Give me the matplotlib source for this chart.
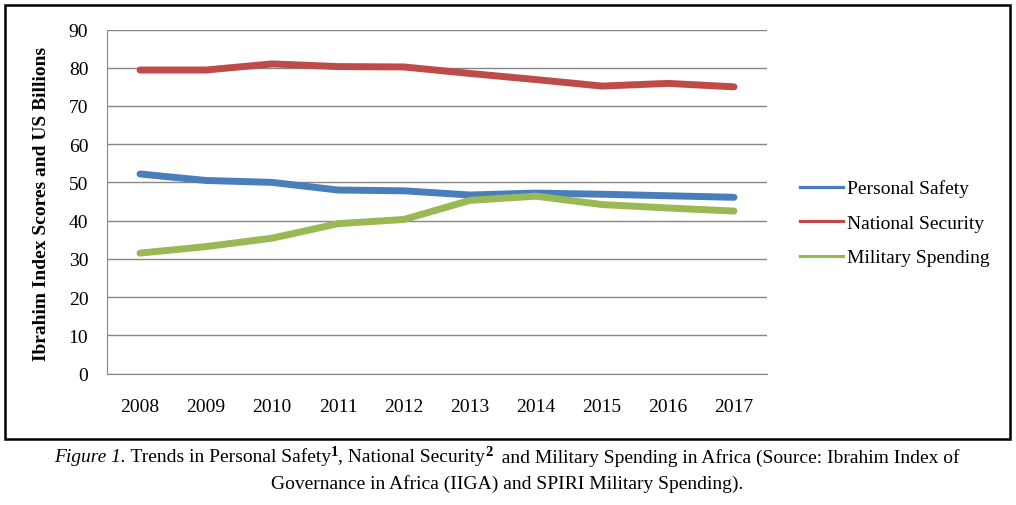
import matplotlib
matplotlib.use("Agg")
import matplotlib.pyplot as plt
from matplotlib.patches import Rectangle
from matplotlib.lines import Line2D

years = ["2008", "2009", "2010", "2011", "2012", "2013", "2014", "2015", "2016", "2017"]
personal_safety = [52.2, 50.5, 50.0, 48.0, 47.8, 46.7, 47.2, 46.9, 46.5, 46.1]
national_security = [79.4, 79.4, 81.0, 80.3, 80.2, 78.5, 76.9, 75.2, 75.9, 75.0]
military_spending = [31.5, 33.2, 35.4, 39.2, 40.3, 45.3, 46.4, 44.2, 43.3, 42.5]
y_ticks = [0, 10, 20, 30, 40, 50, 60, 70, 80, 90]
series_names = ["Personal Safety", "National Security", "Military Spending"]
series_colors = ['#4A7EBB', '#BE4B48', '#98B954']

plt.rcParams['font.family'] = ['Liberation Serif', 'DejaVu Serif']

W, H = 1016, 506
fig = plt.figure(figsize=(W / 100, H / 100), dpi=100)
ax = fig.add_axes([107 / W, (H - 374.5) / H, 660 / W, 344 / H])

x = range(len(years))
for vals, name, col in zip([personal_safety, national_security, military_spending], series_names, series_colors):
    ax.plot(x, vals, color=col, lw=5, solid_capstyle='round', label=name)

ax.set_xlim(-0.5, len(years) - 0.5)
ax.set_ylim(0, 90)
ax.set_yticks(y_ticks)
ax.set_xticks(list(x))
ax.set_xticklabels(years)
ax.tick_params(axis='both', labelsize=14, colors='black', length=0)
ax.tick_params(axis='y', pad=13.5)
ax.tick_params(axis='x', pad=18)
ax.grid(True, axis='y', color='#868686', lw=1)
ax.set_axisbelow(True)
for s in ['top', 'right']:
    ax.spines[s].set_visible(False)
for s in ['left', 'bottom']:
    ax.spines[s].set_color('#868686')

fig.text(42 / W, 1 - 203.5 / H, 'Ibrahim Index Scores and US Billions', rotation=90,
         ha='center', va='center', fontsize=14, fontweight='bold')

handles = [Line2D([], [], color=c, lw=2.3) for c in series_colors]
fig.legend(handles, series_names, loc='center left', bbox_to_anchor=(800 / W, 1 - 224 / H),
           frameon=False, fontsize=14, handlelength=2.2, handletextpad=0.2, labelspacing=0.87,
           borderpad=0, borderaxespad=0)

fig.add_artist(Rectangle((5 / W, (H - 440) / H), 1005 / W, 434 / H, fill=False,
                         lw=1.8, edgecolor='black', transform=fig.transFigure))

# caption, built from pieces so the italic and bold superscripts fit in one line
renderer = fig.canvas.get_renderer()
pieces = [
    ("Figure 1.", dict(fontstyle='italic'), 0),
    (" Trends in Personal Safety", {}, 0),
    ("1", dict(fontweight='bold', fontsize=10.5), 6),
    (", National Security", {}, 0),
    ("2", dict(fontweight='bold', fontsize=10.5), 6),
    ("  and Military Spending in Africa (Source: Ibrahim Index of", {}, 0),
]
texts = []
for s, kw, rise in pieces:
    opts = dict(fontsize=14, va='baseline', ha='left')
    opts.update(kw)
    texts.append(fig.text(0, (H - 462.5 + rise) / H, s, **opts))
widths = [t.get_window_extent(renderer).width for t in texts]
xpos = 507 - sum(widths) / 2
for t, w in zip(texts, widths):
    t.set_x(xpos / W)
    xpos += w

fig.text(507 / W, (H - 488.5) / H, "Governance in Africa (IIGA) and SPIRI Military Spending).",
         ha='center', va='baseline', fontsize=14)

fig.savefig('out.png', dpi=100)
